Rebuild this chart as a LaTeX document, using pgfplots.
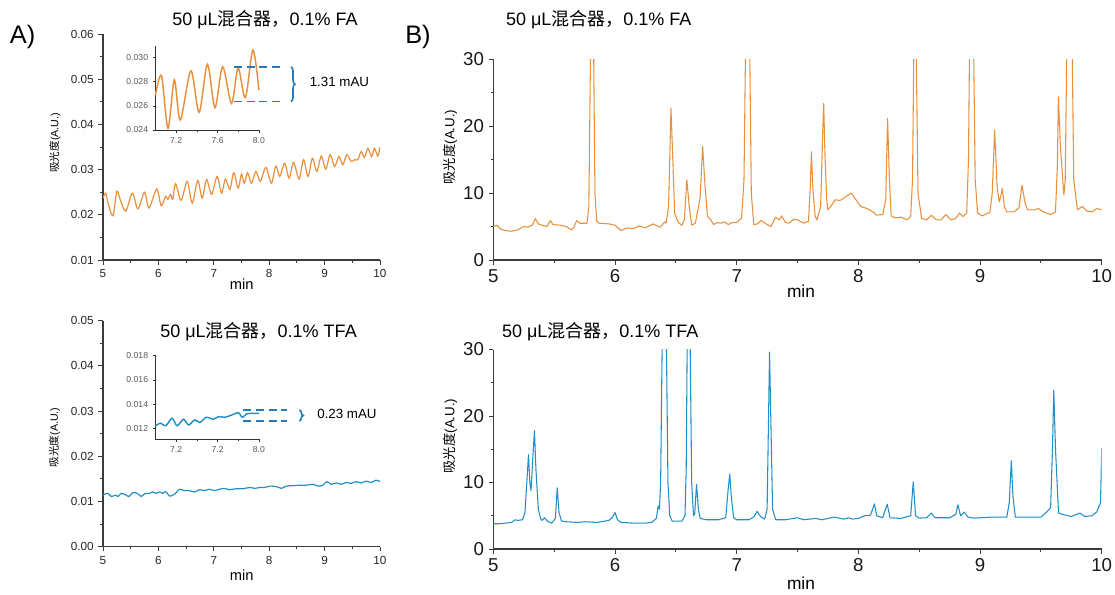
\documentclass[border=0pt]{standalone}
\usepackage{fontspec}
\setmainfont{Liberation Sans}
\newfontfamily\cjk{Noto Sans CJK SC}
\usepackage{pgfplots}
\pgfplotsset{compat=1.18}
\usetikzlibrary{decorations.pathreplacing}

\definecolor{fa}{RGB}{234,144,60}
\definecolor{tfa}{RGB}{34,143,198}
\definecolor{dashc}{RGB}{38,122,182}
\definecolor{axc}{RGB}{60,60,60}

\tikzset{
  dashline/.style={dashc, line width=1.4pt, dash pattern=on 6pt off 3.5pt},
  bracket/.style={dashc, line width=1.2pt, decorate, decoration={brace, amplitude=3pt}},
}

\pgfplotsset{
  panel/.style={
    scale only axis, anchor=south west,
    axis lines=left, axis line style={-, draw=axc, line width=0.9pt},
    tick style={draw=axc, line width=0.7pt},
    tick align=outside, major tick length=3.5pt, minor tick length=2pt,
    xmin=5, xmax=10, xtick={5,6,7,8,9,10}, minor xtick={5.5,6.5,7.5,8.5,9.5},
    scaled y ticks=false,
    /pgf/number format/assume math mode=true,
  },
  leftpanel/.style={panel, width=207.75pt, height=169.5pt,
    tick label style={font=\fontsize{8.8}{10}\selectfont, text=black!85},
    yticklabel style={/pgf/number format/.cd, fixed, fixed zerofill, precision=2},
  },
  rightpanel/.style={panel, width=456.3pt, height=150.5pt,
    tick label style={font=\fontsize{14}{16}\selectfont, text=black!90},
    ymin=0, ymax=30, ytick={0,10,20,30}, minor ytick={5,15,25},
  },
  inset/.style={scale only axis, anchor=south west, width=77.6pt, height=63.3pt,
    axis lines=left, axis line style={-, draw=black!80, line width=0.6pt},
    tick style={draw=black!80, line width=0.5pt},
    tick align=outside, major tick length=2pt, minor tick length=1.2pt,
    xmin=7, xmax=8, xtick={7.2,7.6,8.0}, minor xtick={7.4,7.8},
    scaled y ticks=false, clip=false,
    /pgf/number format/assume math mode=true,
    tick label style={font=\fontsize{6.5}{7}\selectfont, text=black!65},
    xticklabel style={/pgf/number format/.cd, fixed, fixed zerofill, precision=1},
    yticklabel style={/pgf/number format/.cd, fixed, fixed zerofill, precision=3},
  },
}

\newcommand{\ttl}{\fontsize{13.5}{15}\selectfont}

\begin{document}
\begin{tikzpicture}
\path[use as bounding box] (0,0) rectangle (836.25pt,-445.5pt);

% ---------- A) top: FA baseline
\begin{axis}[leftpanel, at={(77.25pt,-195pt)},
  ymin=0.01, ymax=0.06, ytick={0.01,0.02,0.03,0.04,0.05,0.06},
  minor ytick={0.015,0.025,0.035,0.045,0.055}]
\addplot[fa, line width=0.9pt, smooth] coordinates {
(5.00,0.0237) (5.05,0.0248) (5.09,0.0226) (5.18,0.0198) (5.25,0.0252)
(5.31,0.0234) (5.41,0.0208) (5.53,0.0248) (5.63,0.0213) (5.75,0.0250)
(5.83,0.0215) (5.97,0.0257) (6.05,0.0220) (6.13,0.0241) (6.17,0.0234)
(6.22,0.0245) (6.26,0.0234) (6.31,0.0269) (6.41,0.0232) (6.52,0.0274)
(6.61,0.0226) (6.71,0.0276) (6.79,0.0237) (6.87,0.0278) (6.96,0.0245)
(7.06,0.0285) (7.14,0.0248) (7.21,0.0279) (7.29,0.0256) (7.36,0.0293)
(7.44,0.0259) (7.50,0.0290) (7.55,0.0270) (7.61,0.0293) (7.68,0.0270)
(7.76,0.0296) (7.84,0.0274) (7.94,0.0305) (8.04,0.0270) (8.12,0.0308)
(8.19,0.0285) (8.28,0.0314) (8.36,0.0281) (8.44,0.0316) (8.54,0.0279)
(8.62,0.0322) (8.70,0.0285) (8.78,0.0325) (8.86,0.0296) (8.94,0.0330)
(9.02,0.0301) (9.10,0.0333) (9.18,0.0307) (9.26,0.0329) (9.33,0.0311)
(9.40,0.0333) (9.48,0.0318) (9.54,0.0322) (9.60,0.0322) (9.66,0.0340)
(9.72,0.0327) (9.78,0.0347) (9.85,0.0329) (9.90,0.0347) (9.96,0.0330)
(10.00,0.0350)
};
\end{axis}

% inset FA
\begin{axis}[inset, at={(116.6pt,-97.5pt)},
  ymin=0.024, ymax=0.031, ytick={0.024,0.026,0.028,0.030}]
\addplot[fa, line width=1.1pt, smooth] coordinates {
(7.000,0.02690) (7.058,0.02851) (7.121,0.02414) (7.182,0.02815)
(7.240,0.02483) (7.342,0.02892) (7.422,0.02547) (7.502,0.02945)
(7.575,0.02585) (7.649,0.02925) (7.735,0.02621) (7.799,0.02912)
(7.869,0.02668) (7.942,0.03064) (8.000,0.02732)
};
\draw[dashline] (axis cs:7.76,0.02924) -- (axis cs:8.21,0.02924);
\draw[dashline] (axis cs:7.76,0.02636) -- (axis cs:8.21,0.02636);
\draw[bracket] (axis cs:8.31,0.02924) -- (axis cs:8.31,0.02636);
\end{axis}
\node[font=\fontsize{10}{12}\selectfont] at (254.6pt,-61.3pt) {1.31 mAU};

% ---------- A) bottom: TFA baseline
\begin{axis}[leftpanel, at={(77.25pt,-410pt)},
  ymin=0, ymax=0.05, ytick={0,0.01,0.02,0.03,0.04,0.05},
  minor ytick={0.005,0.015,0.025,0.035,0.045}]
\addplot[tfa, line width=0.9pt, smooth] coordinates {
(5.00,0.01144) (5.09,0.0118) (5.15,0.0111) (5.23,0.0114) (5.27,0.0111)
(5.33,0.0118) (5.42,0.0114) (5.47,0.0111) (5.54,0.0120) (5.63,0.0117)
(5.69,0.0111) (5.75,0.0117) (5.84,0.0118) (5.90,0.0121) (5.96,0.0118)
(6.02,0.0121) (6.08,0.0118) (6.13,0.0122) (6.20,0.0112) (6.26,0.0114)
(6.31,0.0118) (6.38,0.0127) (6.47,0.0124) (6.56,0.0124) (6.65,0.0121)
(6.74,0.0126) (6.83,0.0124) (6.92,0.0127) (7.01,0.0124) (7.10,0.0127)
(7.19,0.0129) (7.28,0.0126) (7.40,0.0128) (7.52,0.0128) (7.65,0.0131)
(7.74,0.0129) (7.83,0.0131) (7.92,0.0131) (8.01,0.0134) (8.13,0.0133)
(8.22,0.0129) (8.31,0.0134) (8.43,0.0135) (8.55,0.0136) (8.67,0.0136)
(8.79,0.0138) (8.88,0.0134) (8.97,0.0136) (9.04,0.0144) (9.12,0.0138)
(9.21,0.0141) (9.30,0.0138) (9.39,0.0142) (9.48,0.0140) (9.57,0.0144)
(9.66,0.0141) (9.75,0.0145) (9.84,0.0142) (9.93,0.0147) (10.00,0.0144)
};
\end{axis}

% inset TFA
\begin{axis}[inset, at={(116.6pt,-329.25pt)},
  ymin=0.0111, ymax=0.0181, ytick={0.012,0.014,0.016,0.018},
  xticklabels={7.2,7.2,8.0}]
\addplot[tfa, line width=1.1pt, smooth] coordinates {
(7.00,0.01219) (7.05,0.01241) (7.10,0.01220) (7.16,0.01282) (7.21,0.01220)
(7.27,0.01274) (7.32,0.01227) (7.38,0.01268) (7.43,0.01247) (7.49,0.01290)
(7.56,0.01274) (7.61,0.01296) (7.67,0.01290) (7.74,0.01310) (7.80,0.01329)
(7.84,0.01290) (7.88,0.01318) (7.94,0.01323) (8.00,0.01323)
};
\draw[dashline] (axis cs:7.85,0.01351) -- (axis cs:8.27,0.01351);
\draw[dashline] (axis cs:7.85,0.01260) -- (axis cs:8.27,0.01260);
\draw[bracket] (axis cs:8.39,0.01351) -- (axis cs:8.39,0.01260);
\end{axis}
\node[font=\fontsize{10}{12}\selectfont] at (260.25pt,-310.5pt) {0.23 mAU};

% ---------- B) top: FA chromatogram
\begin{axis}[rightpanel, at={(370pt,-195pt)}]
\addplot[fa, line width=0.8pt, line join=round] coordinates {
(5.00,5.0) (5.03,5.2) (5.06,4.6) (5.10,4.4) (5.15,4.3) (5.20,4.5) (5.25,5.0)
(5.28,4.9) (5.32,5.2) (5.345,6.2) (5.37,5.4) (5.40,5.2) (5.44,5.0) (5.468,5.9)
(5.49,5.3) (5.55,5.2) (5.60,5.0) (5.64,4.5) (5.66,4.8) (5.685,5.9) (5.71,5.5)
(5.77,5.5) (5.785,8) (5.795,25) (5.805,40) (5.815,45) (5.825,30) (5.835,10)
(5.85,5.8) (5.87,5.5) (5.95,5.4) (6.00,5.2) (6.05,4.4) (6.10,4.8) (6.15,4.7)
(6.20,5.1) (6.25,4.8) (6.31,5.4) (6.37,4.9) (6.41,5.7) (6.42,5.5) (6.44,8)
(6.46,22.7) (6.475,15) (6.49,7) (6.52,5.6) (6.55,5.2) (6.57,6) (6.59,12.0)
(6.61,8) (6.63,5.2) (6.66,5.5) (6.69,8.3) (6.70,9.5) (6.72,17.0) (6.74,11)
(6.76,6.5) (6.78,6.2) (6.81,5.3) (6.84,5.6) (6.87,5.5) (6.90,5.7) (6.93,5.3)
(6.96,5.6) (7.00,5.6) (7.04,6.3) (7.06,12) (7.075,35) (7.09,45) (7.105,35)
(7.12,10) (7.14,5.3) (7.17,5.4) (7.20,5.9) (7.25,5.3) (7.28,5.0) (7.32,6.4)
(7.35,6.0) (7.37,6.6) (7.40,5.6) (7.43,5.5) (7.47,6.1) (7.50,6.0) (7.55,5.5)
(7.59,5.8) (7.605,11) (7.614,16.2) (7.625,11) (7.645,6.5) (7.66,6.0) (7.69,8)
(7.705,18) (7.715,23.4) (7.725,16) (7.74,9) (7.75,7.5) (7.78,8.2) (7.81,9.0)
(7.85,8.9) (7.90,9.5) (7.94,10.0) (7.98,9.0) (8.02,8.0) (8.07,7.7) (8.12,7.2)
(8.15,6.7) (8.20,6.8) (8.225,9) (8.24,21.2) (8.255,12) (8.27,6.6) (8.30,6.3)
(8.35,6.4) (8.40,6.0) (8.43,6.5) (8.445,12) (8.455,30) (8.465,45) (8.475,32)
(8.49,10) (8.52,6.2) (8.56,6.0) (8.60,6.7) (8.64,6.0) (8.68,6.0) (8.72,6.8)
(8.76,6.0) (8.80,6.2) (8.83,7.0) (8.86,6.5) (8.89,7.0) (8.905,15) (8.915,35)
(8.93,45) (8.945,35) (8.96,12) (8.98,7.0) (9.02,6.6) (9.06,7.0) (9.08,7.0)
(9.10,10) (9.12,19.4) (9.14,11) (9.157,8.7) (9.17,9.5) (9.183,10.7) (9.20,8.0)
(9.22,7.2) (9.28,7.2) (9.32,7.8) (9.345,11.2) (9.37,8.5) (9.39,7.5) (9.45,7.5)
(9.48,7.7) (9.52,7.2) (9.58,6.8) (9.62,7.2) (9.635,14) (9.644,24.4) (9.66,17)
(9.689,9.7) (9.70,12) (9.715,35) (9.735,45) (9.755,35) (9.77,12) (9.80,7.5)
(9.84,8.0) (9.88,7.3) (9.92,7.2) (9.96,7.7) (10.00,7.5)
};
\end{axis}

% ---------- B) bottom: TFA chromatogram
\begin{axis}[rightpanel, at={(370pt,-411.75pt)}, height=149.6pt]
\addplot[tfa, line width=0.8pt, line join=round] coordinates {
(5.00,3.8) (5.05,3.8) (5.10,3.9) (5.15,4.0) (5.18,4.4) (5.20,4.3) (5.24,4.4)
(5.26,5.5) (5.275,10) (5.289,14.2) (5.30,10) (5.31,8.8) (5.325,14) (5.338,17.8)
(5.35,12) (5.37,6) (5.39,4.5) (5.40,4.3) (5.42,4.7) (5.45,4.1) (5.48,3.9)
(5.51,4.6) (5.525,9.2) (5.54,5.5) (5.56,4.2) (5.60,4.1) (5.70,4.0) (5.75,4.1)
(5.85,4.0) (5.95,4.3) (5.98,4.8) (6.00,5.5) (6.02,4.4) (6.05,4.0) (6.15,3.9)
(6.25,3.9) (6.30,4.0) (6.34,4.6) (6.355,6.5) (6.365,6.0) (6.375,10) (6.39,35)
(6.405,45) (6.42,35) (6.435,10) (6.45,5) (6.47,4.2) (6.55,4.2) (6.575,5)
(6.585,12) (6.595,35) (6.605,45) (6.615,35) (6.63,10) (6.645,5.0) (6.655,5.3)
(6.67,9.75) (6.685,6) (6.70,4.6) (6.75,4.4) (6.85,4.4) (6.91,4.7) (6.93,9)
(6.943,11.25) (6.955,8) (6.975,4.7) (7.00,4.4) (7.10,4.4) (7.14,4.8)
(7.168,5.65) (7.20,4.8) (7.23,4.5) (7.25,6) (7.262,20) (7.27,29.6) (7.28,20)
(7.295,6) (7.32,4.4) (7.40,4.4) (7.50,4.7) (7.55,4.4) (7.65,4.6) (7.70,4.4)
(7.80,4.8) (7.88,4.5) (7.92,4.7) (7.95,4.5) (8.00,4.6) (8.05,5.0) (8.10,5.1)
(8.132,6.8) (8.15,5.0) (8.20,4.7) (8.237,6.75) (8.26,4.7) (8.35,4.6) (8.43,5.0)
(8.451,10.1) (8.47,5.0) (8.50,4.65) (8.56,4.7) (8.60,5.4) (8.63,4.7) (8.75,4.7)
(8.80,5.2) (8.818,6.65) (8.84,5.0) (8.87,5.55) (8.90,4.8) (8.95,4.65)
(9.10,4.8) (9.22,4.8) (9.24,7) (9.257,13.3) (9.27,8) (9.29,4.8) (9.40,4.8)
(9.50,4.8) (9.55,5.6) (9.58,6.2) (9.595,15) (9.606,23.9) (9.62,15) (9.645,5.4)
(9.70,5.1) (9.75,4.9) (9.82,5.4) (9.86,4.9) (9.92,5.0) (9.96,5.6) (9.99,7.0)
(10.00,15.2)
};
\end{axis}

% ---------- labels
\node[font=\fontsize{19}{20}\selectfont] at (16.9pt,-27.75pt) {A)};
\node[font=\fontsize{19}{20}\selectfont] at (313.5pt,-27.75pt) {B)};

\node[font=\ttl] at (198.75pt,-15pt) {50 μL{\cjk 混合器，}0.1\% FA};
\node[font=\ttl] at (193.9pt,-248.8pt) {50 μL{\cjk 混合器，}0.1\% TFA};
\node[font=\ttl, anchor=west] at (376pt,-15pt) {50 μL{\cjk 混合器，}0.1\% FA};
\node[font=\ttl, anchor=west] at (373pt,-248.8pt) {50 μL{\cjk 混合器，}0.1\% TFA};

\node[rotate=90, font=\fontsize{8}{9}\selectfont] at (41.25pt,-107.25pt) {{\cjk 吸光度}(A.U.)};
\node[rotate=90, font=\fontsize{8}{9}\selectfont] at (40.9pt,-328.1pt) {{\cjk 吸光度}(A.U.)};
\node[rotate=90, font=\fontsize{10}{11}\selectfont] at (337.5pt,-110.25pt) {{\cjk 吸光度}(A.U.)};
\node[rotate=90, font=\fontsize{10}{11}\selectfont] at (337.5pt,-327pt) {{\cjk 吸光度}(A.U.)};

\node[font=\fontsize{11}{12}\selectfont] at (181.3pt,-213pt) {min};
\node[font=\fontsize{11}{12}\selectfont] at (181.3pt,-431.25pt) {min};
\node[font=\fontsize{13}{14}\selectfont] at (600.75pt,-218.25pt) {min};
\node[font=\fontsize{13}{14}\selectfont] at (600.75pt,-437.25pt) {min};
\end{tikzpicture}
\end{document}
